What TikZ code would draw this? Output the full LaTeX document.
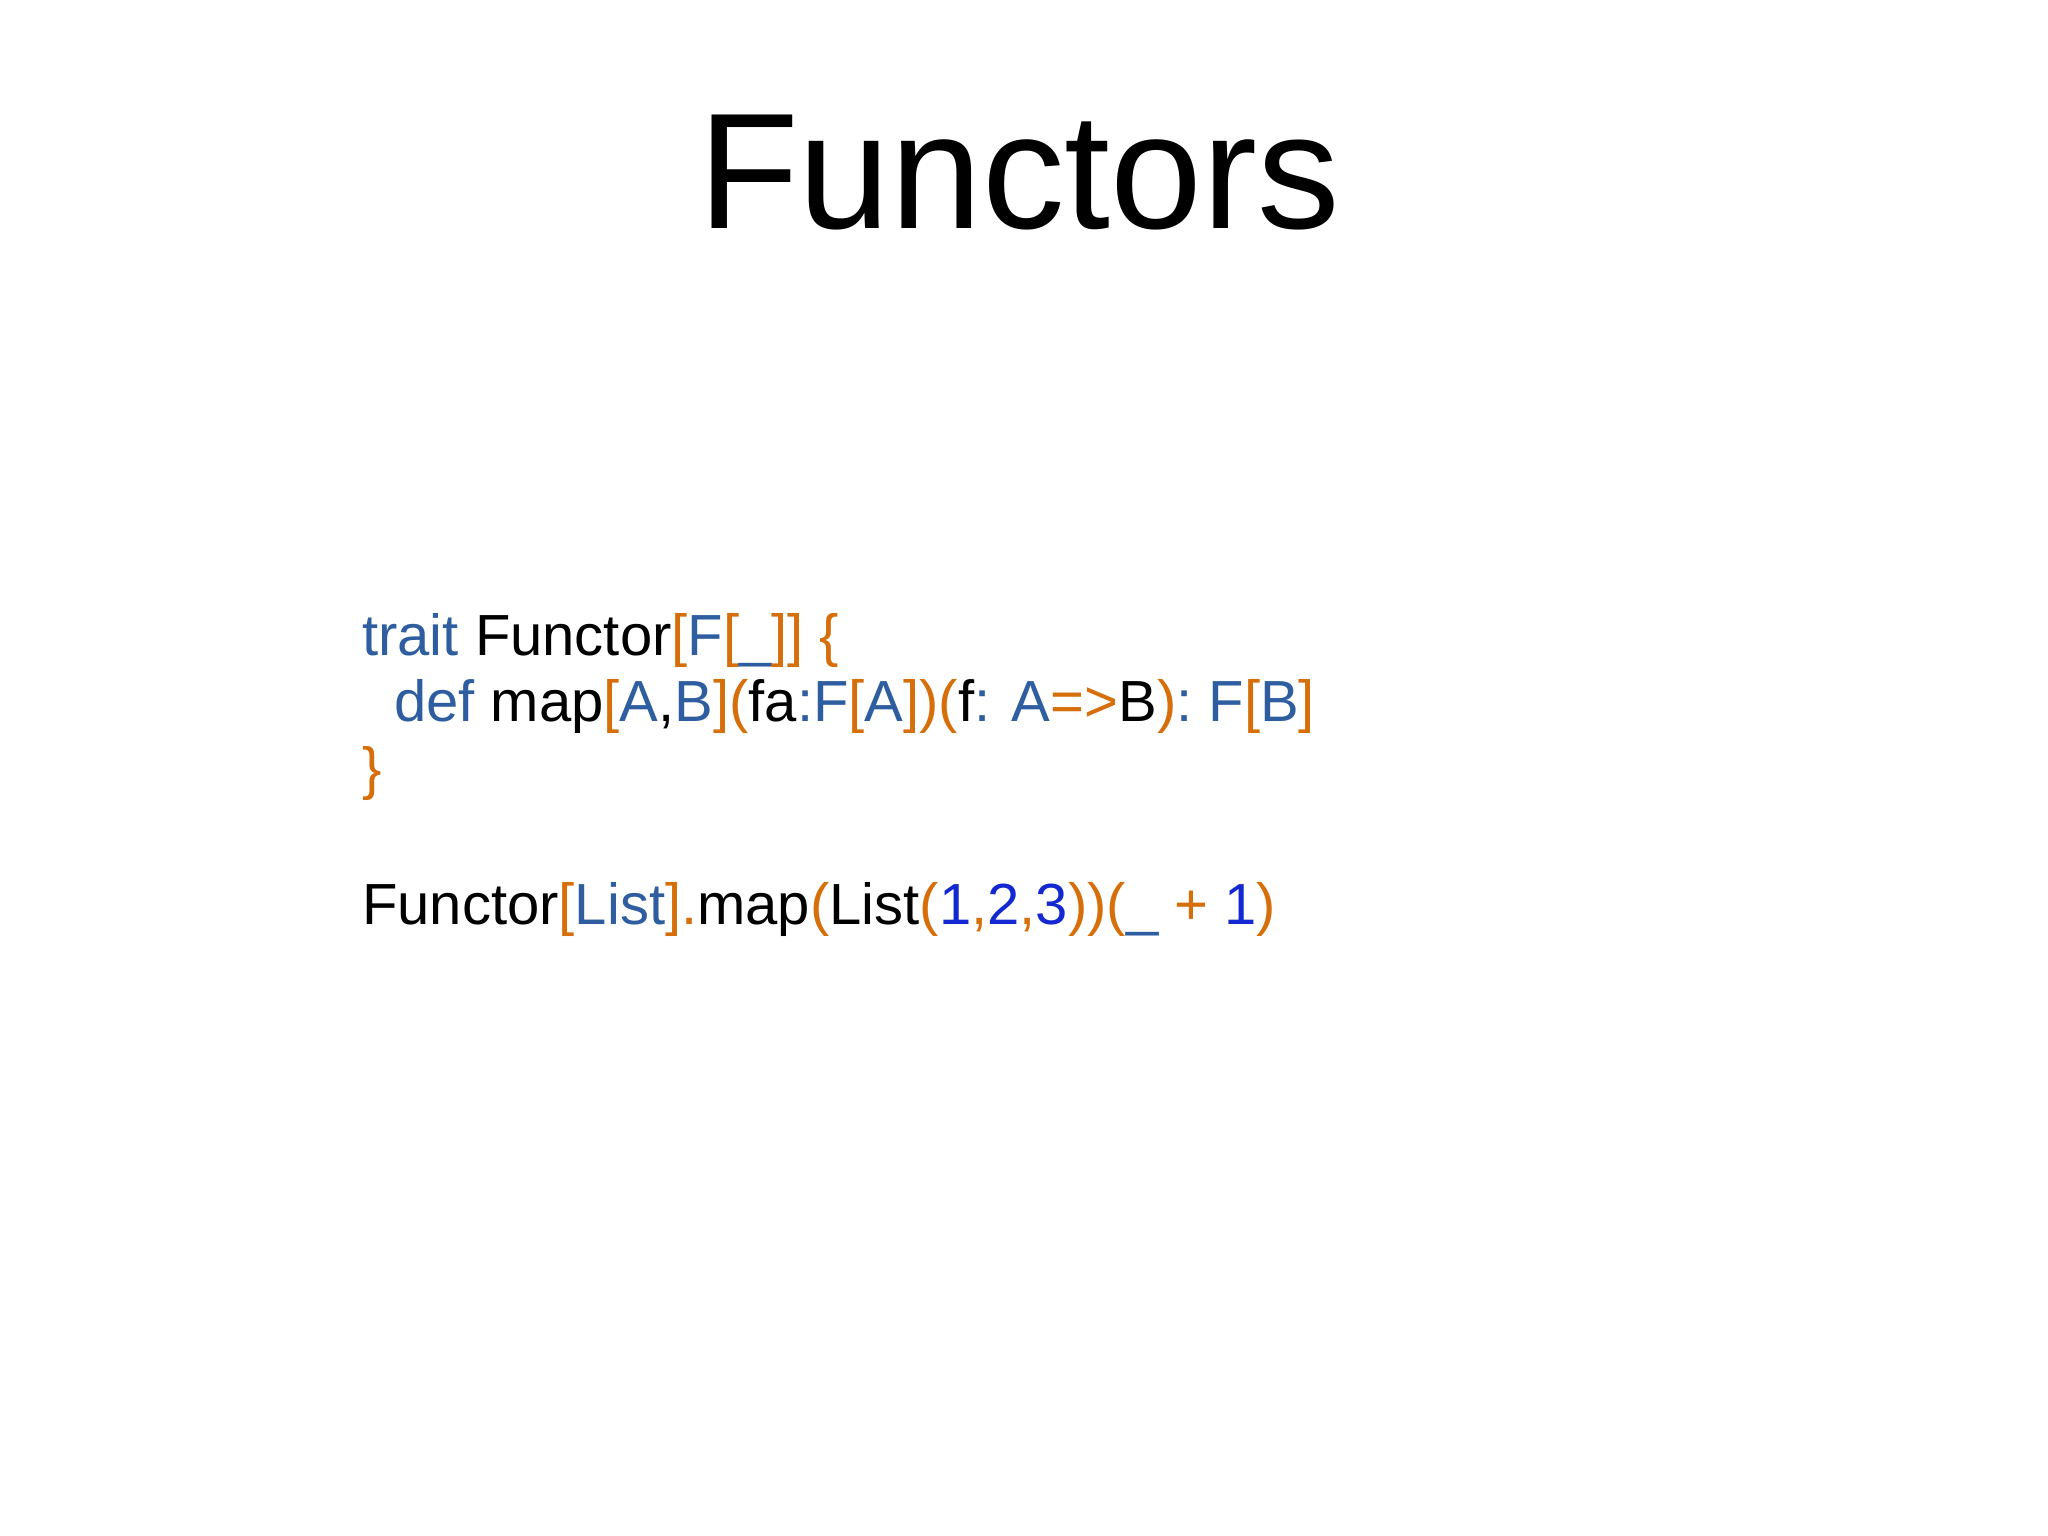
\documentclass[tikz,border=0pt]{standalone}
\usepackage{fontspec}
\setmainfont{Liberation Sans}
\definecolor{kw}{RGB}{46,94,160}
\definecolor{pu}{RGB}{214,110,10}
\definecolor{nu}{RGB}{20,40,210}
\newcommand{\ck}[1]{\textcolor{kw}{#1}}
\newcommand{\cp}[1]{\textcolor{pu}{#1}}
\newcommand{\cn}[1]{\textcolor{nu}{#1}}
\begin{document}
\begin{tikzpicture}[x=1pt,y=1pt,code/.style={anchor=base west,inner sep=0pt,font=\fontsize{58}{58}\selectfont}]
\useasboundingbox (0,0) rectangle (2048,1536);
\node[anchor=base,inner sep=0pt,font=\fontsize{165}{165}\selectfont] (title) at (1019,1307) {Functors};
\node[code] (l1) at (362,880) {\ck{trait} Functor\cp{[}\ck{F}\cp{[}\ck{\_}\cp{]]} \cp{\{}};
\node[code] (l2) at (362,814) {\hspace*{32pt}\ck{def} map\cp{[}\ck{A},\ck{B}\cp{](}fa\ck{:F}\cp{[}\ck{A}\cp{])(}f\ck{: A}\cp{=>}B\cp{)}\ck{: F}\cp{[}\ck{B}\cp{]}};
\node[code] (l3) at (362,747) {\cp{\}}};
\node[code] (l5) at (362,611) {Functor\cp{[}\ck{List}\cp{].}map\cp{(}List\cp{(}\cn{1}\cp{,}\cn{2}\cp{,}\cn{3}\cp{))(}\ck{\_} \cp{+} \cn{1}\cp{)}};
\end{tikzpicture}
\end{document}
